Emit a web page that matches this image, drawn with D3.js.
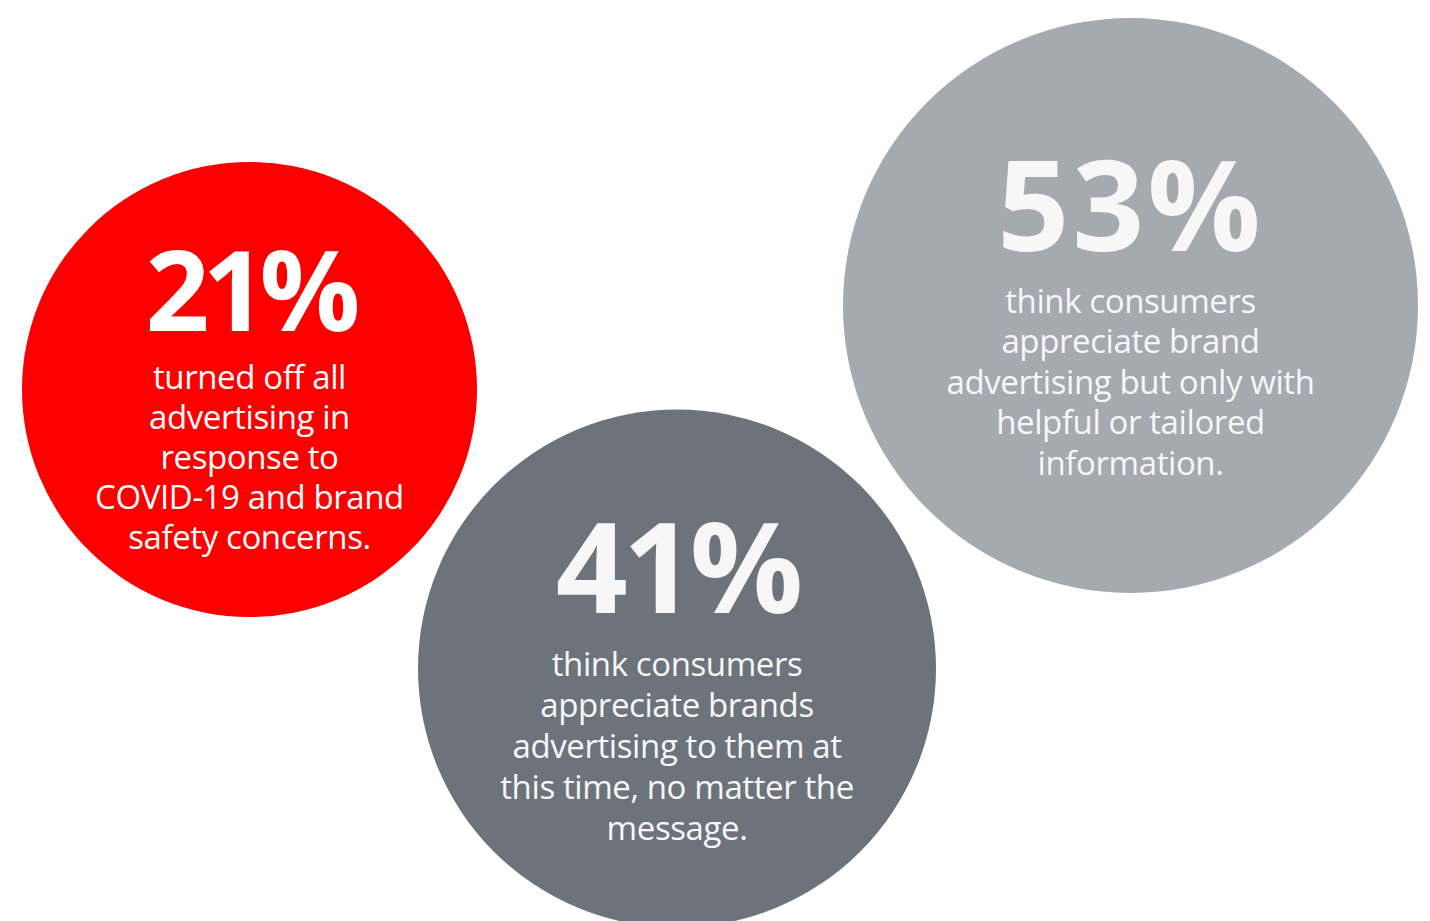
<!DOCTYPE html>
<html>
<head>
<meta charset="utf-8">
<script src="https://cdn.jsdelivr.net/npm/d3@7"></script>
<style>
  html, body { margin: 0; padding: 0; background: #ffffff; }
  svg { display: block; }
</style>
</head>
<body>
<svg id="chart" width="1430" height="921"></svg>
<script>
// Survey shares, one bubble each
const values = [21, 41, 53];
const captions = [
  ["turned off all", "advertising in", "response to", "COVID-19 and brand", "safety concerns."],
  ["think consumers", "appreciate brands", "advertising to them at", "this time, no matter the", "message."],
  ["think consumers", "appreciate brand", "advertising but only with", "helpful or tailored", "information."]
];

// Layout and styling
const centers = [[249.5, 389.5], [677, 668.5], [1130.5, 305.5]];
const fills = ["#fc0000", "#6c737b", "#a5a9b0"];
const textFill = ["#ffffff", "#f7f7f7", "#f7f7f7"];
const numberSize = [112, 126, 126];
const numberSpacing = [-7, -5, 3];
const numberBaselineOffset = [-59, -56, -55];
const captionTop = [-1, 7, 7];
const lineHeight = [40, 41, 40.5];

const radius = d3.scaleLinear().domain([21, 41, 53]).range([227.5, 259, 287.5]);

const svg = d3.select("#chart");

const data = values.map((v, i) => ({
  value: v,
  lines: captions[i],
  cx: centers[i][0],
  cy: centers[i][1],
  fill: fills[i],
  text: textFill[i],
  nSize: numberSize[i],
  nSpace: numberSpacing[i],
  nOff: numberBaselineOffset[i],
  cTop: captionTop[i],
  lh: lineHeight[i]
}));

const g = svg.selectAll("g.bubble")
  .data(data)
  .join("g")
  .attr("class", "bubble")
  .attr("transform", d => `translate(${d.cx},${d.cy})`);

g.append("circle")
  .attr("r", d => radius(d.value))
  .attr("fill", d => d.fill);

g.append("text")
  .attr("text-anchor", "middle")
  .attr("y", d => d.nOff)
  .attr("fill", d => d.text)
  .style("font-family", "'Open Sans', sans-serif")
  .style("font-weight", 700)
  .style("font-size", d => d.nSize + "px")
  .style("letter-spacing", d => d.nSpace + "px")
  .text(d => d.value + "%");

g.each(function(d) {
  const t = d3.select(this).append("text")
    .attr("text-anchor", "middle")
    .attr("fill", d.text)
    .style("font-family", "'Open Sans', sans-serif")
    .style("font-weight", 400)
    .style("font-size", "33px")
    .style("letter-spacing", "-0.4px");
  t.selectAll("tspan")
    .data(d.lines)
    .join("tspan")
    .attr("x", 0)
    .attr("y", (l, j) => d.cTop + j * d.lh)
    .text(l => l);
});
</script>
</body>
</html>
